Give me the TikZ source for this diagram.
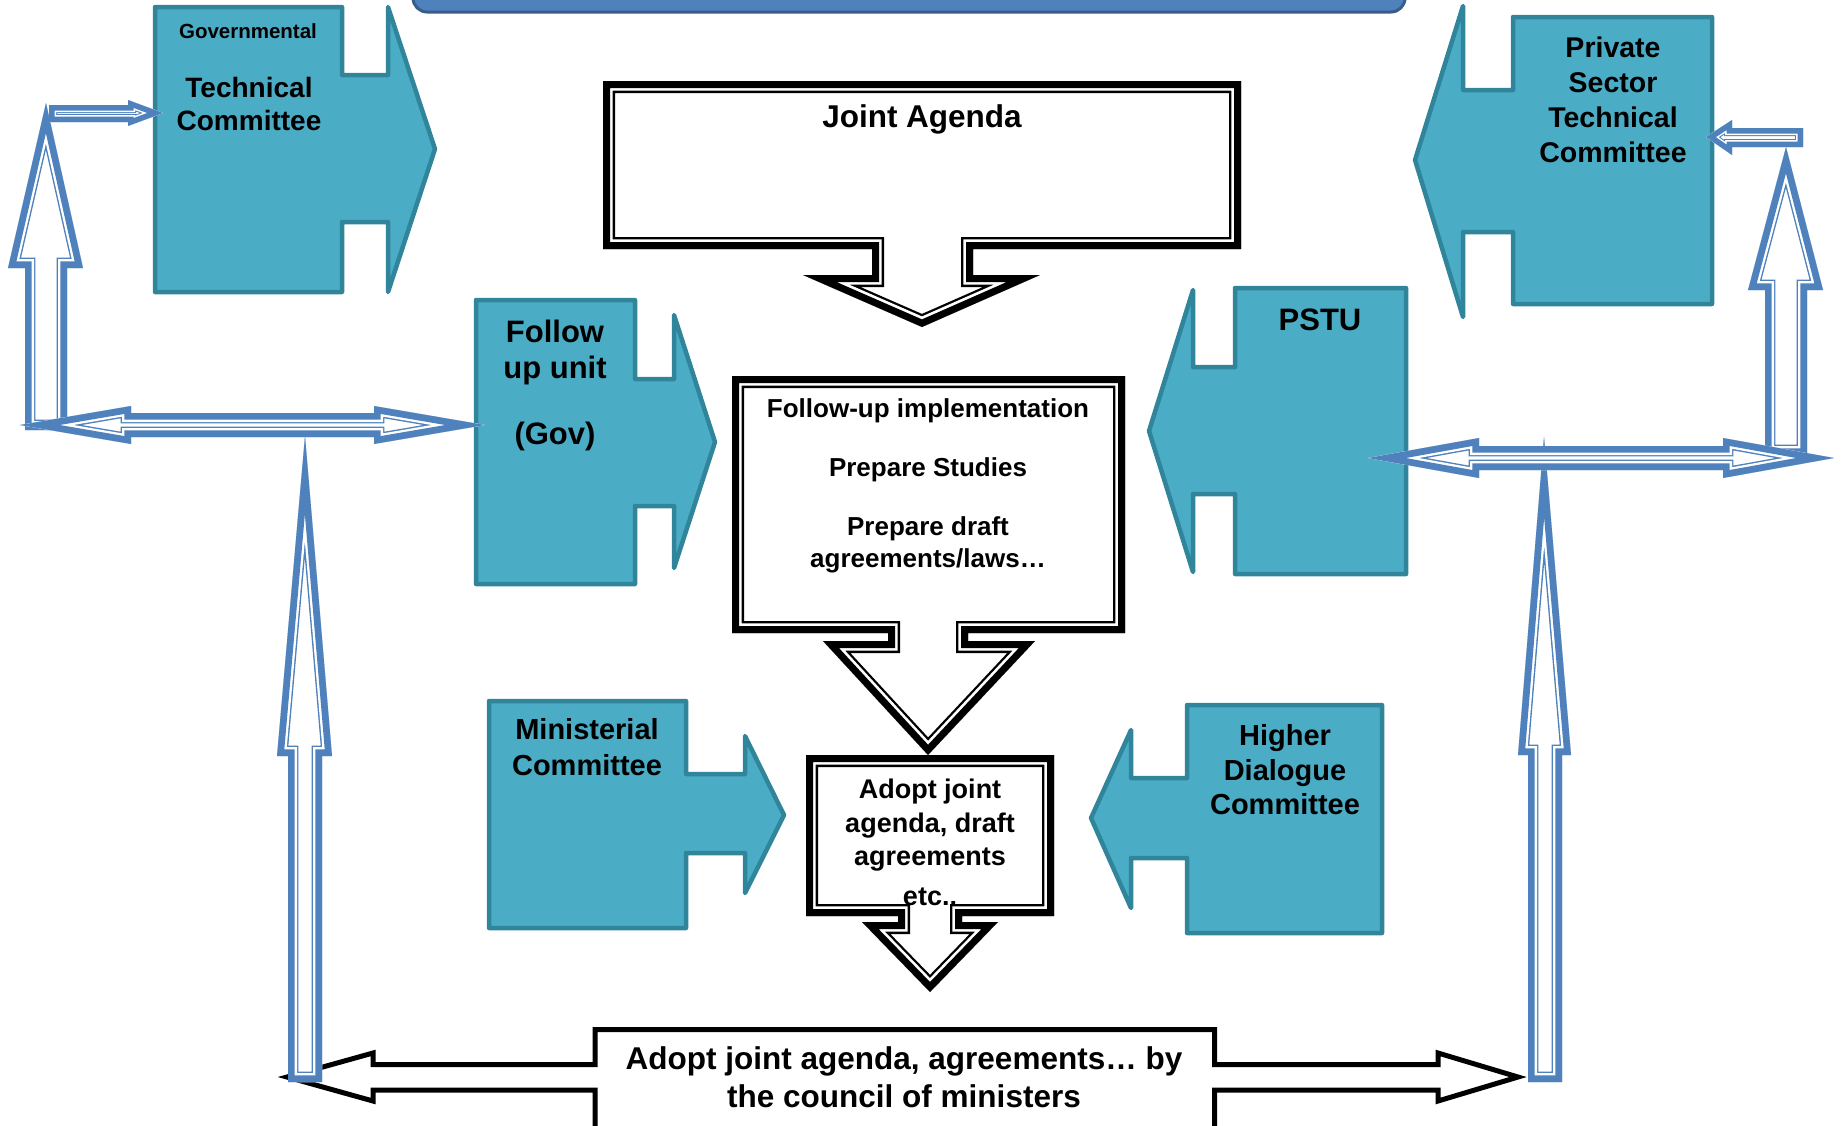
\documentclass[tikz,border=0pt]{standalone}
\usepackage{fontspec}
\setmainfont{Liberation Sans}
\definecolor{tealfill}{RGB}{75,172,198}
\definecolor{tealline}{RGB}{49,133,155}
\definecolor{arrowblue}{RGB}{79,129,189}
\definecolor{bardark}{RGB}{56,93,138}

% Outline laid inside a closed path: thick band, white gap, thin line.
% #1 colour, #2 band, #3 gap, #4 thin line, #5 path
\newcommand\bandoutline[5]{%
  \fill[white] #5;
  \begin{scope}[line join=miter, miter limit=60]
    \clip #5;
    \draw[#1, line width={2*(#2+#3+#4)}] #5;
    \draw[white, line width={2*(#2+#3)}] #5;
    \draw[#1, line width={2*#2}] #5;
  \end{scope}}

\tikzset{
  tealbox/.style={fill=tealfill, draw=tealline, line width=4.5, line join=round},
  lbl/.style={inner sep=0pt, anchor=base, font=\bfseries\fontsize{#1}{#1}\selectfont},
}

\begin{document}
\begin{tikzpicture}[x=1pt, y=-1pt]
\useasboundingbox (0,0) rectangle (1841,1125);
\clip (0,0) rectangle (1841,1125);

% title bar at the top edge
\draw[fill=arrowblue, draw=bardark, line width=3, rounded corners=14] (413,-30) rectangle (1405,12);

% committee shapes (arrow callouts)
\draw[tealbox] (155,7) -- (342,7) -- (342,75) -- (388,75) -- (388,7) -- (435,149) -- (388,292) -- (388,222) -- (342,222) -- (342,292) -- (155,292) -- cycle;
\draw[tealbox] (476,300) -- (635,300) -- (635,379) -- (674,379) -- (674,315) -- (715,442) -- (674,568) -- (674,506) -- (635,506) -- (635,584) -- (476,584) -- cycle;
\draw[tealbox] (489,701) -- (686,701) -- (686,774) -- (745,774) -- (745,736) -- (784,815) -- (745,893) -- (745,853) -- (686,853) -- (686,928) -- (489,928) -- cycle;
\draw[tealbox] (1712,17) -- (1513,17) -- (1513,90) -- (1463,90) -- (1463,6) -- (1415,160) -- (1463,317) -- (1463,232) -- (1513,232) -- (1513,304) -- (1712,304) -- cycle;
\draw[tealbox] (1406,288) -- (1235,288) -- (1235,367) -- (1193,367) -- (1193,290) -- (1149,431) -- (1193,572) -- (1193,494) -- (1235,494) -- (1235,574) -- (1406,574) -- cycle;
\draw[tealbox] (1382,705) -- (1187,705) -- (1187,778) -- (1131,778) -- (1131,730) -- (1091,818) -- (1131,908) -- (1131,858) -- (1187,858) -- (1187,933) -- (1382,933) -- cycle;

% central down-arrow callouts
\bandoutline{black}{7}{2.7}{2.3}{(603,81) -- (1241,81) -- (1241,249) -- (973,249) -- (973,275) -- (1040,275) -- (922,327) -- (803,275) -- (872,275) -- (872,249) -- (603,249) -- cycle}
\bandoutline{black}{7}{2.7}{2.3}{(732,376) -- (1125,376) -- (1125,633) -- (968,633) -- (968,641) -- (1035,641) -- (928,755) -- (823,641) -- (888,641) -- (888,633) -- (732,633) -- cycle}
\bandoutline{black}{7}{2.7}{2.3}{(806,755) -- (1054,755) -- (1054,916) -- (962,916) -- (962,922) -- (998,922) -- (930,992) -- (862,922) -- (898,922) -- (898,916) -- (806,916) -- cycle}

% council of ministers: left-right arrow callout
\draw[fill=white, draw=black, line width=5, line join=miter]
  (595,1140) -- (595,1090) -- (373,1090) -- (373,1101) -- (287,1077) -- (373,1053) -- (373,1064.5) -- (595,1064.5)
  -- (595,1029.5) -- (1214.5,1029.5) -- (1214.5,1064.5) -- (1438,1064.5) -- (1438,1053) -- (1518,1077)
  -- (1438,1101) -- (1438,1090) -- (1214.5,1090) -- (1214.5,1140) -- cycle;

% blue feedback arrows
\bandoutline{arrowblue}{6.7}{2.3}{1.4}{(25,430) -- (25,268) -- (8,268) -- (46,103) -- (83,268) -- (67,268) -- (67,430) -- cycle}
\bandoutline{arrowblue}{6.7}{2.3}{1.4}{(288,1082) -- (288,756) -- (277,756) -- (305,436) -- (332,756) -- (322,756) -- (322,1082) -- cycle}
\bandoutline{arrowblue}{6.7}{2.3}{1.4}{(1765,455) -- (1765,290) -- (1748,290) -- (1786,147) -- (1823,290) -- (1807,290) -- (1807,455) -- cycle}
\bandoutline{arrowblue}{6.7}{2.3}{1.4}{(1528,1082) -- (1528,755) -- (1518,755) -- (1544,437) -- (1571,755) -- (1562,755) -- (1562,1082) -- cycle}
\bandoutline{arrowblue}{6.7}{2.3}{1.4}{(20,425) -- (131,406) -- (131,413) -- (374,413) -- (374,406) -- (485,425) -- (374,444) -- (374,437) -- (131,437) -- (131,444) -- cycle}
\bandoutline{arrowblue}{6.7}{2.3}{1.4}{(1368,458) -- (1479,438) -- (1479,446) -- (1723,446) -- (1723,438) -- (1834,458) -- (1723,478) -- (1723,470) -- (1479,470) -- (1479,478) -- cycle}
\bandoutline{arrowblue}{5.5}{1.5}{1}{(49,105) -- (128,105) -- (128,100) -- (163,113) -- (128,126) -- (128,122) -- (49,122) -- cycle}
\bandoutline{arrowblue}{5.5}{1.5}{1}{(1803,128) -- (1732,128) -- (1732,120) -- (1706,137) -- (1732,155) -- (1732,147) -- (1803,147) -- cycle}

% texts
\node[lbl=20.5] (gov0) at (248,38) {Governmental};
\node[lbl=28] (gov1) at (249,97) {Technical};
\node[lbl=28] (gov2) at (249,130) {Committee};

\node[lbl=31] (fu1) at (555,342) {Follow};
\node[lbl=31] (fu2) at (555,378) {up unit};
\node[lbl=31] (fu3) at (555,444) {(Gov)};

\node[lbl=29] (min1) at (587,739) {Ministerial};
\node[lbl=29] (min2) at (587,775) {Committee};

\node[lbl=28.5] (ps1) at (1613,57) {Private};
\node[lbl=28.5] (ps2) at (1613,92) {Sector};
\node[lbl=28.5] (ps3) at (1613,127) {Technical};
\node[lbl=28.5] (ps4) at (1613,162) {Committee};

\node[lbl=31] (pstu) at (1320,330) {PSTU};

\node[lbl=29] (hd1) at (1285,745) {Higher};
\node[lbl=29] (hd2) at (1285,780) {Dialogue};
\node[lbl=29] (hd3) at (1285,814) {Committee};

\node[lbl=31.5] (ja) at (922,127) {Joint Agenda};

\node[lbl=26] (imp1) at (928,417) {Follow-up implementation};
\node[lbl=26] (imp2) at (928,476) {Prepare Studies};
\node[lbl=26] (imp3) at (928,535) {Prepare draft};
\node[lbl=26] (imp4) at (928,567) {agreements/laws…};

\node[lbl=27] (ad1) at (930,798) {Adopt joint};
\node[lbl=27] (ad2) at (930,832) {agenda, draft};
\node[lbl=27] (ad3) at (930,865) {agreements};
\node[lbl=27] (ad4) at (930,905) {etc..};

\node[lbl=31.5] (cm1) at (904,1069) {Adopt joint agenda, agreements… by};
\node[lbl=31.5] (cm2) at (904,1107) {the council of ministers};
\end{tikzpicture}
\end{document}
